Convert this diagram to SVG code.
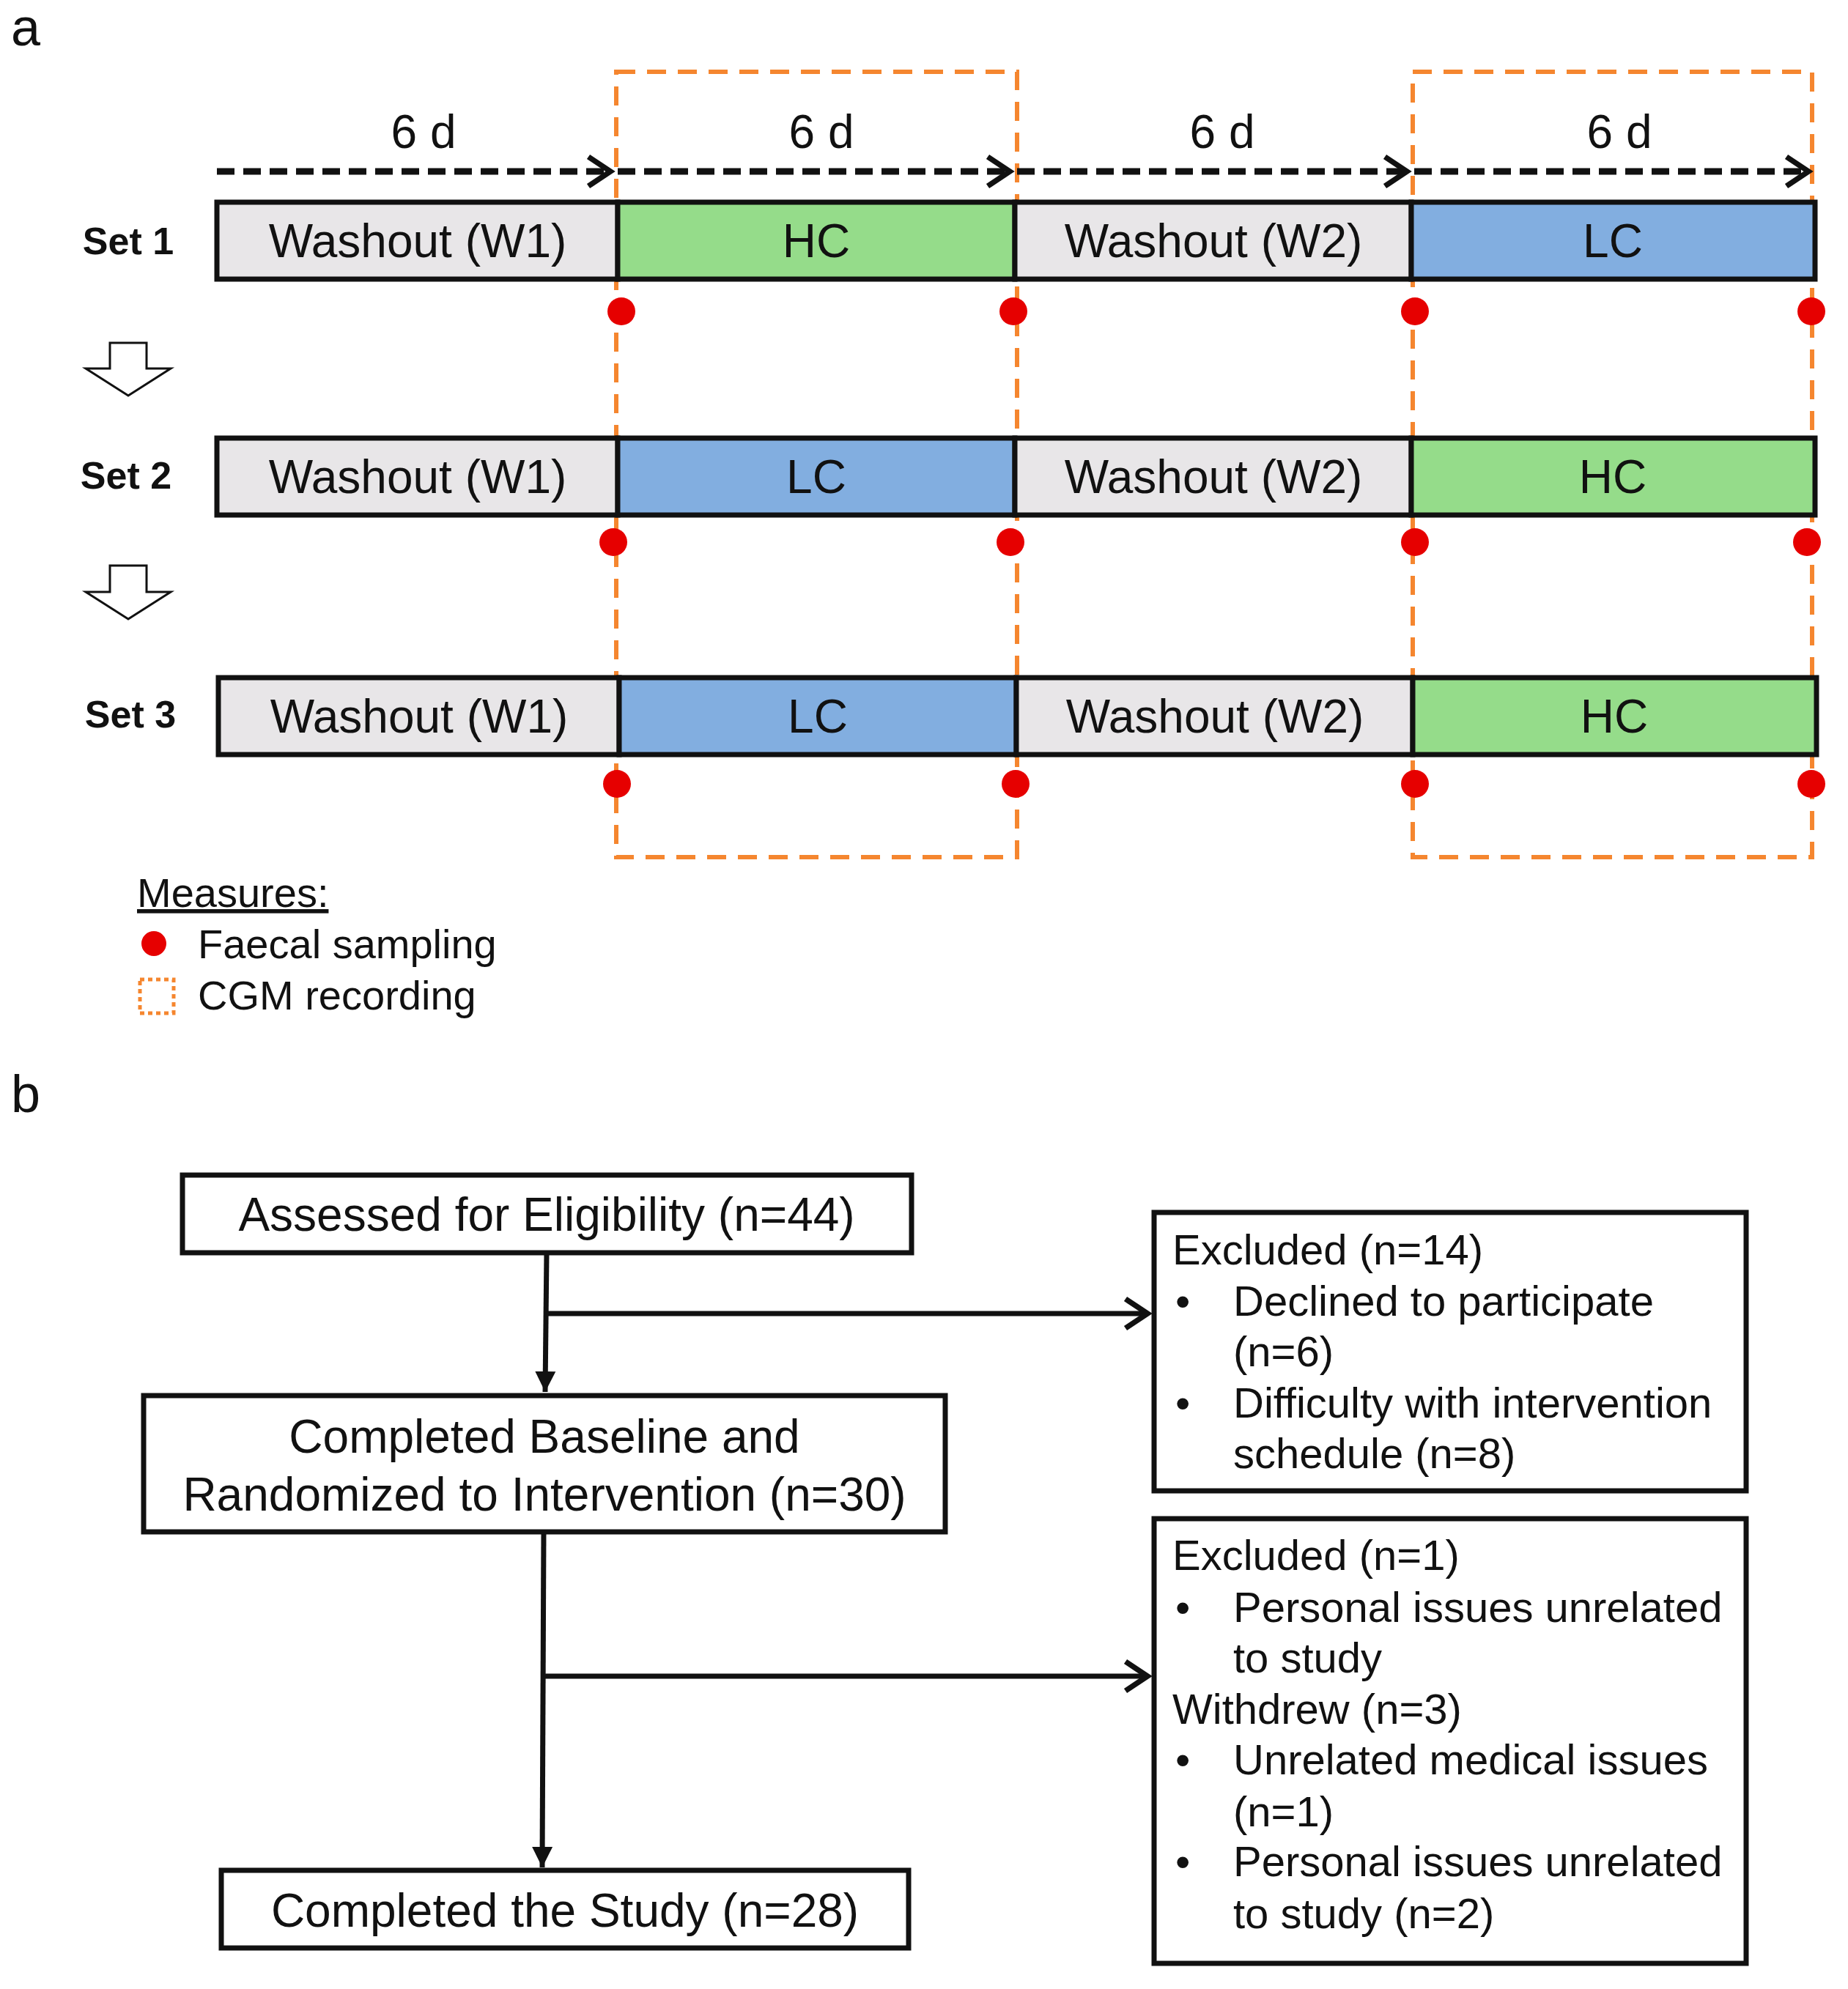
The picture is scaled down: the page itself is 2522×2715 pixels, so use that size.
<svg xmlns="http://www.w3.org/2000/svg" width="2522" height="2715" viewBox="0 0 2522 2715">
<defs>
<style>
text{font-family:"Liberation Sans",Arial,sans-serif;fill:#111}
.bt{font-size:64px;text-anchor:middle}
.set{font-size:52px;font-weight:bold;text-anchor:middle}
.ft{font-size:64px}
.rt{font-size:58px}
.bar{stroke:#111;stroke-width:7}
.w{fill:#e8e6e8}.hc{fill:#95dc8a}.lc{fill:#82aee0}
.cgm{fill:none;stroke:#f5862f;stroke-width:6;stroke-dasharray:26 16}
.dot{fill:#e60000}
.dash{stroke:#111;stroke-width:9;stroke-dasharray:24 12;fill:none}
.ln{stroke:#111;stroke-width:7;fill:none}
.box{fill:#fff;stroke:#111;stroke-width:7}
</style>
<marker id="tri" viewBox="0 0 10 10" refX="10" refY="5" markerWidth="4" markerHeight="5" orient="auto"><path d="M0 0 L10 5 L0 10z" fill="#111"/></marker>
<marker id="chev2" viewBox="0 0 20 20" refX="17" refY="10" markerWidth="50" markerHeight="50" markerUnits="userSpaceOnUse" orient="auto"><path d="M5 2 L17 10 L5 18" fill="none" stroke="#111" stroke-width="3"/></marker>
</defs>
<rect width="2522" height="2715" fill="#fff"/>
<text x="15" y="62" style="font-size:72px">a</text>
<text x="15" y="1518" style="font-size:72px">b</text>

<g id="cgm-boxes">
<rect class="cgm" x="841" y="98" width="547" height="1072"/>
<rect class="cgm" x="1928" y="98" width="545" height="1072"/>
</g>

<g id="timeline">
<text class="bt" x="578" y="202">6 d</text>
<text class="bt" x="1121" y="202">6 d</text>
<text class="bt" x="1668" y="202">6 d</text>
<text class="bt" x="2210" y="202">6 d</text>
<line class="dash" x1="296" y1="234" x2="833" y2="234" marker-end="url(#chev2)"/>
<line class="dash" x1="843" y1="234" x2="1378" y2="234" marker-end="url(#chev2)"/>
<line class="dash" x1="1388" y1="234" x2="1920" y2="234" marker-end="url(#chev2)"/>
<line class="dash" x1="1930" y1="234" x2="2468" y2="234" marker-end="url(#chev2)"/>
</g>

<g id="set1">
<text class="set" x="175" y="347">Set 1</text>
<rect class="bar w" x="296" y="276" width="547" height="105"/>
<rect class="bar hc" x="843" y="276" width="542" height="105"/>
<rect class="bar w" x="1385" y="276" width="541" height="105"/>
<rect class="bar lc" x="1926" y="276" width="551" height="105"/>
<text class="bt" x="570" y="351">Washout (W1)</text>
<text class="bt" x="1114" y="351">HC</text>
<text class="bt" x="1656" y="351">Washout (W2)</text>
<text class="bt" x="2201" y="351">LC</text>
<circle class="dot" cx="848" cy="425" r="19"/><circle class="dot" cx="1383" cy="425" r="19"/><circle class="dot" cx="1931" cy="425" r="19"/><circle class="dot" cx="2472" cy="425" r="19"/>
</g>

<g id="arrow1"><path d="M150 468 H200 V503 H233 L175 540 L117 503 H150 Z" fill="#fff" stroke="#111" stroke-width="3"/></g>

<g id="set2">
<text class="set" x="172" y="667">Set 2</text>
<rect class="bar w" x="296" y="598" width="547" height="105"/>
<rect class="bar lc" x="843" y="598" width="542" height="105"/>
<rect class="bar w" x="1385" y="598" width="541" height="105"/>
<rect class="bar hc" x="1926" y="598" width="551" height="105"/>
<text class="bt" x="570" y="673">Washout (W1)</text>
<text class="bt" x="1114" y="673">LC</text>
<text class="bt" x="1656" y="673">Washout (W2)</text>
<text class="bt" x="2201" y="673">HC</text>
<circle class="dot" cx="837" cy="740" r="19"/><circle class="dot" cx="1379" cy="740" r="19"/><circle class="dot" cx="1931" cy="740" r="19"/><circle class="dot" cx="2466" cy="740" r="19"/>
</g>

<g id="arrow2"><path d="M150 772 H200 V808 H233 L175 845 L117 808 H150 Z" fill="#fff" stroke="#111" stroke-width="3"/></g>

<g id="set3">
<text class="set" x="178" y="993">Set 3</text>
<rect class="bar w" x="298" y="925" width="547" height="105"/>
<rect class="bar lc" x="845" y="925" width="542" height="105"/>
<rect class="bar w" x="1387" y="925" width="541" height="105"/>
<rect class="bar hc" x="1928" y="925" width="551" height="105"/>
<text class="bt" x="572" y="1000">Washout (W1)</text>
<text class="bt" x="1116" y="1000">LC</text>
<text class="bt" x="1658" y="1000">Washout (W2)</text>
<text class="bt" x="2203" y="1000">HC</text>
<circle class="dot" cx="842" cy="1070" r="19"/><circle class="dot" cx="1386" cy="1070" r="19"/><circle class="dot" cx="1931" cy="1070" r="19"/><circle class="dot" cx="2472" cy="1070" r="19"/>
</g>

<g id="legend">
<text x="187" y="1238" style="font-size:56px;text-decoration:underline">Measures:</text>
<circle class="dot" cx="210" cy="1288" r="17"/>
<text x="270" y="1308" style="font-size:56px">Faecal sampling</text>
<rect x="191" y="1337" width="46" height="46" fill="none" stroke="#f5862f" stroke-width="5" stroke-dasharray="6 5"/>
<text x="270" y="1378" style="font-size:56px">CGM recording</text>
</g>

<g id="connectors">
<line class="ln" x1="746" y1="1710" x2="744" y2="1900" marker-end="url(#tri)"/>
<line class="ln" x1="745" y1="1793" x2="1566" y2="1793" marker-end="url(#chev2)"/>
<line class="ln" x1="742" y1="2090" x2="740" y2="2549" marker-end="url(#tri)"/>
<line class="ln" x1="742" y1="2288" x2="1566" y2="2288" marker-end="url(#chev2)"/>
</g>

<g id="n-assessed">
<rect class="box" x="249" y="1604" width="995" height="106"/>
<text class="ft" x="746" y="1680" text-anchor="middle">Assessed for Eligibility (n=44)</text>
</g>
<g id="n-baseline">
<rect class="box" x="196" y="1905" width="1094" height="186"/>
<text class="ft" x="743" y="1983" text-anchor="middle">Completed Baseline and</text>
<text class="ft" x="743" y="2062" text-anchor="middle">Randomized to Intervention (n=30)</text>
</g>
<g id="n-completed">
<rect class="box" x="302" y="2553" width="938" height="106"/>
<text class="ft" x="771" y="2630" text-anchor="middle">Completed the Study (n=28)</text>
</g>
<g id="n-excluded1">
<rect class="box" x="1575" y="1655" width="808" height="380"/>
<text class="rt" x="1600" y="1726">Excluded (n=14)</text>
<text class="rt" x="1604" y="1796">•</text><text class="rt" x="1683" y="1796">Declined to participate</text>
<text class="rt" x="1683" y="1865">(n=6)</text>
<text class="rt" x="1604" y="1935">•</text><text class="rt" x="1683" y="1935">Difficulty with intervention</text>
<text class="rt" x="1683" y="2004">schedule (n=8)</text>
</g>
<g id="n-excluded2">
<rect class="box" x="1575" y="2073" width="808" height="607"/>
<text class="rt" x="1600" y="2143">Excluded (n=1)</text>
<text class="rt" x="1604" y="2214">•</text><text class="rt" x="1683" y="2214">Personal issues unrelated</text>
<text class="rt" x="1683" y="2283">to study</text>
<text class="rt" x="1600" y="2353">Withdrew (n=3)</text>
<text class="rt" x="1604" y="2422">•</text><text class="rt" x="1683" y="2422">Unrelated medical issues</text>
<text class="rt" x="1683" y="2493">(n=1)</text>
<text class="rt" x="1604" y="2561">•</text><text class="rt" x="1683" y="2561">Personal issues unrelated</text>
<text class="rt" x="1683" y="2632">to study (n=2)</text>
</g>
</svg>
